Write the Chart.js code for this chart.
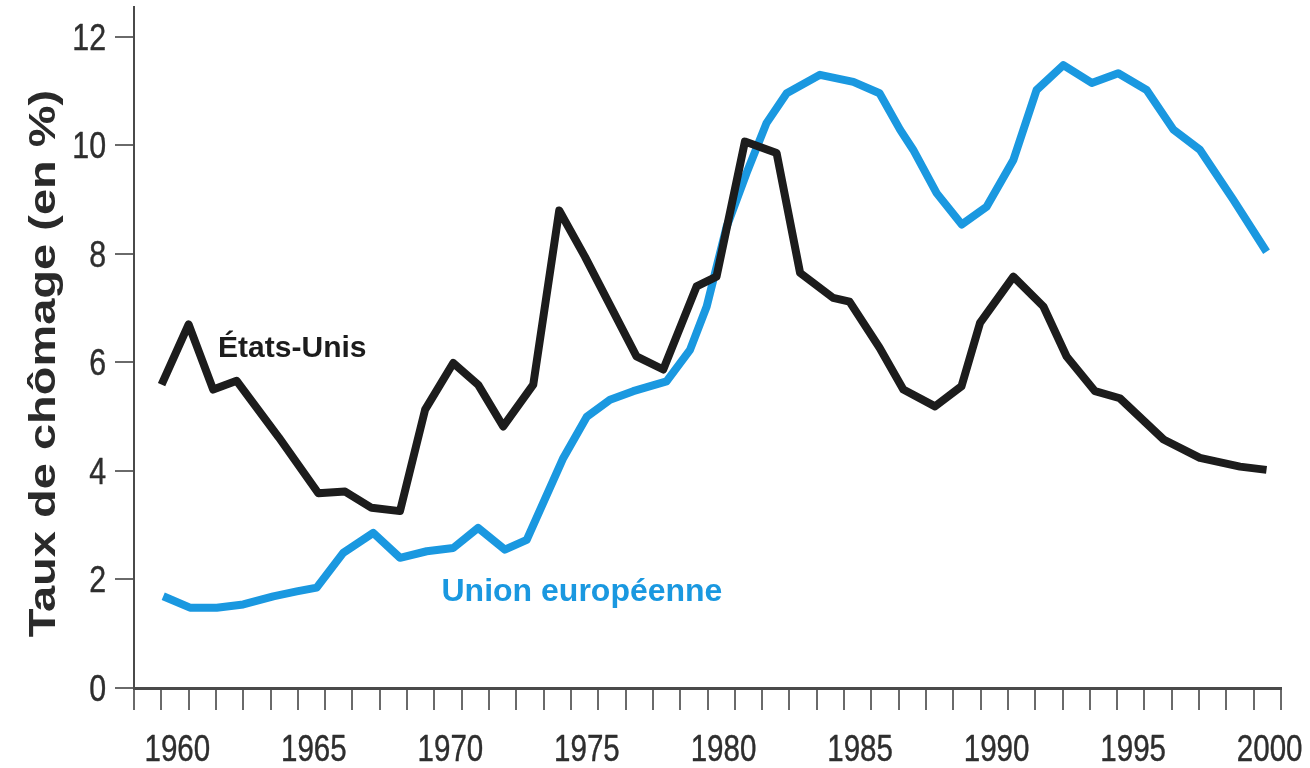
<!DOCTYPE html>
<html lang="fr">
<head>
<meta charset="utf-8">
<title>Taux de chômage : États-Unis et Union européenne</title>
<script src="https://cdn.jsdelivr.net/npm/chart.js@4.4.1/dist/chart.umd.min.js"></script>
<style>
  html, body { margin: 0; padding: 0; background: #ffffff; }
  #wrap { width: 1310px; height: 768px; }
</style>
</head>
<body>
<div id="wrap"><canvas id="chomageChart" width="1310" height="768"></canvas></div>
<script>
// Unemployment rate (%), vertices of each curve (x in years)
const usYears = [1960.01, 1961.0, 1961.9, 1962.76, 1964.3, 1965.75, 1966.73, 1967.7, 1968.74, 1969.66,
                 1970.69, 1971.6, 1972.52, 1973.62, 1974.57, 1975.51, 1977.4, 1978.38, 1979.6, 1980.33,
                 1981.37, 1982.53, 1983.39, 1984.6, 1985.2, 1986.3, 1987.17, 1988.33, 1989.3, 1989.98,
                 1991.2, 1992.3, 1993.15, 1994.19, 1995.1, 1996.7, 1998.03, 1999.5, 2000.47];
const usRates = [5.59, 6.7, 5.5, 5.66, 4.62, 3.59, 3.62, 3.32, 3.26, 5.13,
                 5.99, 5.59, 4.82, 5.59, 8.8, 7.95, 6.11, 5.87, 7.4, 7.58,
                 10.07, 9.86, 7.65, 7.19, 7.12, 6.27, 5.5, 5.19, 5.56, 6.73,
                 7.58, 7.03, 6.11, 5.47, 5.34, 4.58, 4.24, 4.08, 4.02];

const euYears = [1960.07, 1961.05, 1962.03, 1963.0, 1964.1, 1964.96, 1965.69, 1966.66, 1967.76, 1968.74,
                 1969.72, 1970.69, 1971.6, 1972.58, 1973.38, 1974.72, 1975.58, 1976.43, 1977.28, 1978.5,
                 1979.36, 1979.97, 1980.7, 1981.43, 1982.16, 1982.9, 1984.12, 1985.34, 1986.3, 1987.05,
                 1987.53, 1988.39, 1989.31, 1990.22, 1991.2, 1992.05, 1993.03, 1994.07, 1995.04, 1996.08,
                 1997.06, 1998.03, 1999.25, 2000.47];
const euRates = [1.69, 1.48, 1.48, 1.54, 1.69, 1.78, 1.85, 2.49, 2.86, 2.4,
                 2.52, 2.58, 2.95, 2.55, 2.73, 4.24, 5.0, 5.31, 5.47, 5.65,
                 6.23, 7.03, 8.5, 9.49, 10.41, 10.96, 11.3, 11.17, 10.96, 10.29,
                 9.92, 9.12, 8.54, 8.87, 9.73, 11.02, 11.48, 11.15, 11.33, 11.02,
                 10.29, 9.92, 9.0, 8.04];

const yearLabels = [1960, 1965, 1970, 1975, 1980, 1985, 1990, 1995, 2000];
const rateTicks = [0, 2, 4, 6, 8, 10, 12];
const axisTitle = 'Taux de chômage (en %)';

const usColor = '#1c1c1c';
const euColor = '#1a98e0';
const labelColor = '#2e2e2e';
const sansFont = "'Liberation Sans', Arial, Helvetica, sans-serif";

// In-chart series names, anchored in data units (left edge, baseline)
const seriesNames = [
    { text: 'États-Unis', x: 1962.08, y: 6.1, color: usColor, size: 30 },
    { text: 'Union européenne', x: 1970.26, y: 1.6, color: euColor, size: 32 }
];

const toPoints = (xs, ys) => xs.map((x, i) => ({ x: x, y: ys[i] }));

// Tall, narrow lettering for the axes: text is squeezed horizontally
// and given a thin outline so it reads a little heavier
function drawCondensed(ctx, text, px, py, squeeze) {
    ctx.save();
    ctx.translate(px, py);
    ctx.scale(squeeze, 1);
    ctx.fillText(text, 0, 0);
    ctx.strokeText(text, 0, 0);
    ctx.restore();
}

const axisTextPlugin = {
    id: 'axisText',
    afterDraw(chart) {
        const ctx = chart.ctx;
        const xScale = chart.scales.x;
        const yScale = chart.scales.y;
        ctx.save();
        ctx.fillStyle = labelColor;
        ctx.strokeStyle = labelColor;
        ctx.lineWidth = 0.4;
        ctx.lineJoin = 'round';
        ctx.textBaseline = 'alphabetic';

        // year labels, set a little right of their tick
        ctx.font = '36px ' + sansFont;
        ctx.textAlign = 'center';
        yearLabels.forEach(year => {
            drawCondensed(ctx, String(year), xScale.getPixelForValue(year) + 16, xScale.top + 73, 0.82);
        });

        // rate labels, right aligned before the tick marks
        ctx.font = '37px ' + sansFont;
        ctx.textAlign = 'right';
        rateTicks.forEach(v => {
            drawCondensed(ctx, String(v), yScale.left + yScale.width - 28, yScale.getPixelForValue(v) + 13, 0.82);
        });

        // vertical axis title, stretched along its length
        const area = chart.chartArea;
        ctx.fillStyle = '#2a2a2a';
        ctx.font = 'bold 37px ' + sansFont;
        ctx.textAlign = 'center';
        ctx.textBaseline = 'middle';
        ctx.translate(45, (area.top + area.bottom) / 2 + 16);
        ctx.rotate(-Math.PI / 2);
        ctx.scale(1.27, 1);
        ctx.fillText(axisTitle, 0, 0);
        ctx.restore();
    },
    afterDatasetsDraw(chart) {
        const ctx = chart.ctx;
        const xScale = chart.scales.x;
        const yScale = chart.scales.y;
        ctx.save();
        ctx.textAlign = 'left';
        ctx.textBaseline = 'alphabetic';
        seriesNames.forEach(s => {
            ctx.font = 'bold ' + s.size + 'px ' + sansFont;
            ctx.fillStyle = s.color;
            ctx.fillText(s.text, xScale.getPixelForValue(s.x), yScale.getPixelForValue(s.y));
        });
        ctx.restore();
    }
};

new Chart(document.getElementById('chomageChart'), {
    type: 'line',
    data: {
        datasets: [
            {
                label: 'États-Unis',
                data: toPoints(usYears, usRates),
                borderColor: usColor,
                borderWidth: 8,
                pointRadius: 0,
                tension: 0,
                borderJoinStyle: 'round',
                fill: false
            },
            {
                label: 'Union européenne',
                data: toPoints(euYears, euRates),
                borderColor: euColor,
                borderWidth: 8,
                pointRadius: 0,
                tension: 0,
                borderJoinStyle: 'round',
                fill: false
            }
        ]
    },
    options: {
        responsive: false,
        devicePixelRatio: 1,
        animation: false,
        layout: { padding: { top: 7, right: 29, bottom: 0, left: 0 } },
        plugins: {
            legend: { display: false },
            tooltip: { enabled: false }
        },
        scales: {
            x: {
                type: 'linear',
                min: 1959,
                max: 2001,
                border: { display: true, color: '#4a4a4a', width: 3 },
                grid: { drawOnChartArea: false, drawTicks: true, tickLength: 22, color: '#6a6a6a', lineWidth: 2 },
                ticks: {
                    display: false,
                    stepSize: 1,
                    autoSkip: false,
                    maxRotation: 0,
                    includeBounds: false
                },
                afterFit(scale) {
                    scale.height = 80;
                    scale.paddingLeft = 0;
                    scale.paddingRight = 0;
                }
            },
            y: {
                min: 0,
                max: 12.55,
                border: { display: true, color: '#4a4a4a', width: 2 },
                grid: { drawOnChartArea: false, drawTicks: true, tickLength: 19, color: '#6a6a6a', lineWidth: 2 },
                ticks: {
                    display: false,
                    stepSize: 2,
                    includeBounds: false
                },
                afterFit(scale) {
                    scale.width = 134;
                    scale.paddingTop = 0;
                    scale.paddingBottom = 0;
                }
            }
        }
    },
    plugins: [axisTextPlugin]
});
</script>
</body>
</html>
